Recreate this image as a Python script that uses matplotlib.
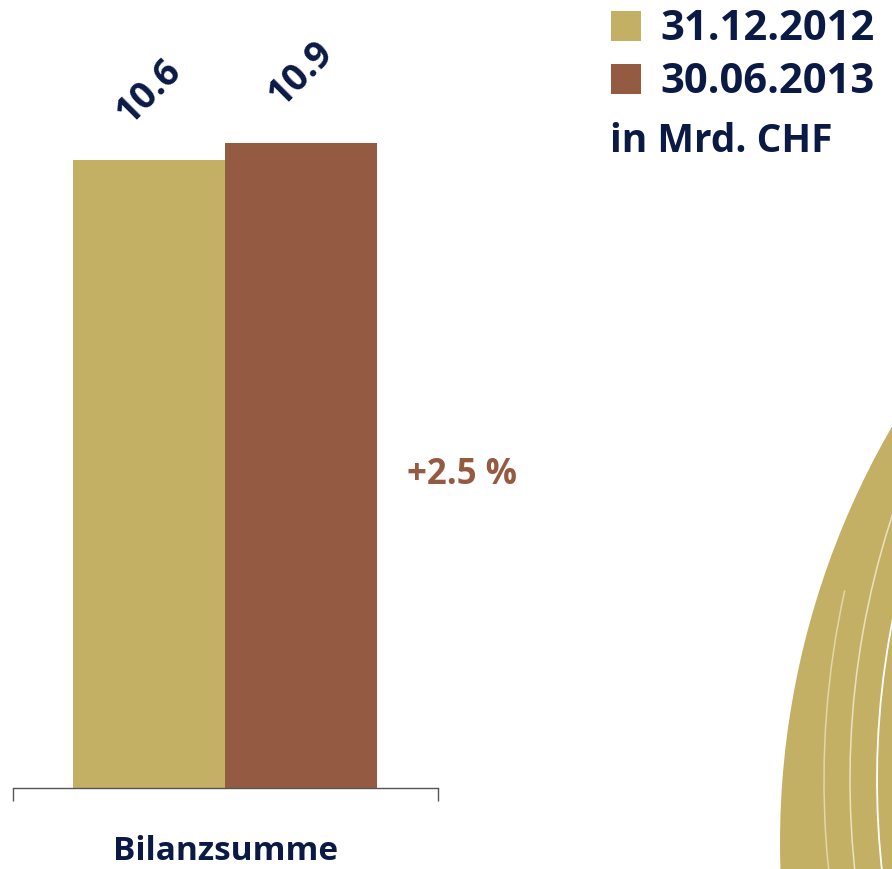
import matplotlib
matplotlib.use("Agg")
import matplotlib.pyplot as plt
from matplotlib.patches import Circle, Arc, Patch

plt.rcParams["font.family"] = ["Open Sans", "DejaVu Sans"]
plt.rcParams["font.weight"] = "bold"

# 数据
category = "Bilanzsumme"
dates = ["31.12.2012", "30.06.2013"]
values = [10.6, 10.9]
change_text = "+2.5 %"
unit_text = "in Mrd. CHF"

BEIGE = "#C4B064"
BROWN = "#955A42"
NAVY = "#0B1A45"
colors = [BEIGE, BROWN]

fig = plt.figure(figsize=(8.92, 8.69), dpi=100)

# 装饰背景（右下角的圆弧），像素坐标
deco = fig.add_axes([0, 0, 1, 1])
deco.set_xlim(0, 892)
deco.set_ylim(0, 869)
deco.axis("off")
deco.add_patch(Circle((1610, 26), 830, color=BEIGE, lw=0))
deco.add_patch(Arc((1700, 89), 2 * 876, 2 * 876, theta1=167.5, theta2=200,
                   color="#E2D7A6", lw=1.1))
deco.add_patch(Arc((1700, 89), 2 * 850, 2 * 850, theta1=140, theta2=200,
                   color="#EAE2BE", lw=1.1))
deco.add_patch(Arc((1700, 89), 2 * 823, 2 * 823, theta1=140, theta2=200,
                   color="white", lw=1.3))

# 柱状图
ax = fig.add_axes([13 / 892, 81 / 869, 425 / 892, 788 / 869])
ax.patch.set_alpha(0)
x = [-0.5, 0.5]
bars = ax.bar(x, values, width=1.0, color=colors, label=dates)
ax.set_xlim(-1.395, 1.401)
ax.set_ylim(0, 13.31)
for s in ["left", "right", "top"]:
    ax.spines[s].set_visible(False)
ax.spines["bottom"].set_color("#555555")
ax.spines["bottom"].set_linewidth(1.0)
ax.set_yticks([])
ax.set_xticks([-1.395, 1.401])
ax.set_xticklabels(["", ""])
ax.tick_params(axis="x", direction="out", length=9.5, width=1.0, color="#555555")

for xi, v in zip(x, values):
    ax.annotate(f"{v:.1f}", xy=(xi, v), xytext=(0, 50), textcoords="offset points",
                ha="center", va="center", rotation=45, fontsize=27,
                fontweight="bold", color=NAVY)

ax.annotate(category, xy=(0, 0), xytext=(0, -46), textcoords="offset points",
            ha="center", va="center", fontsize=24, fontweight="bold", color=NAVY,
            annotation_clip=False)

ax.text(1.2, 5.29, change_text, ha="left", va="center", fontsize=25,
        fontweight="bold", color=BROWN, clip_on=False)

# 图例
handles = [Patch(facecolor=c, edgecolor="none") for c in colors]
leg = fig.legend(handles, dates, loc="upper left",
                 bbox_to_anchor=(603 / 892, 1 - 1 / 869),
                 frameon=False, fontsize=30, handlelength=0.72, handleheight=0.72,
                 handletextpad=0.45, labelspacing=0.29, borderaxespad=0, borderpad=0.2)
for t in leg.get_texts():
    t.set_color(NAVY)
    t.set_fontweight("bold")

fig.text(610 / 892, 1 - 142 / 869, unit_text, ha="left", va="center",
         fontsize=28, fontweight="bold", color=NAVY)

plt.savefig("out.png", dpi=100)
plt.close()
